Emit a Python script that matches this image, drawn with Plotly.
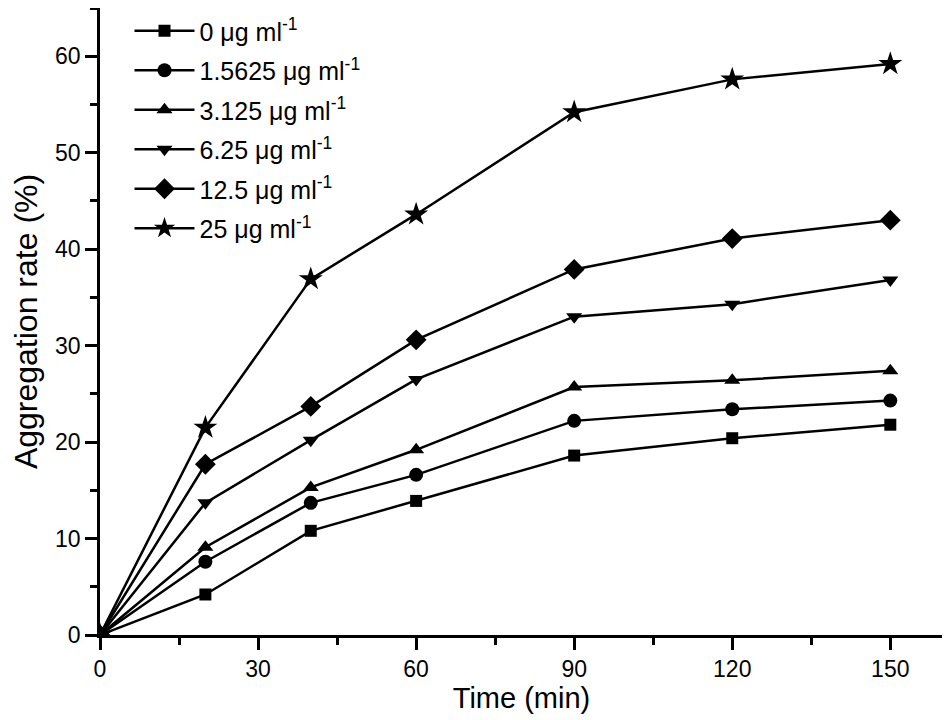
import plotly.graph_objects as go

time_min = [0, 20, 40, 60, 90, 120, 150]
labels = ["0 μg ml<sup>-1</sup>", "1.5625 μg ml<sup>-1</sup>", "3.125 μg ml<sup>-1</sup>",
          "6.25 μg ml<sup>-1</sup>", "12.5 μg ml<sup>-1</sup>", "25 μg ml<sup>-1</sup>"]
rate_0 = [0, 4.2, 10.8, 13.9, 18.6, 20.4, 21.8]
rate_1_5625 = [0, 7.6, 13.7, 16.6, 22.2, 23.4, 24.3]
rate_3_125 = [0, 9.1, 15.3, 19.2, 25.7, 26.4, 27.4]
rate_6_25 = [0, 13.7, 20.2, 26.5, 33.0, 34.3, 36.8]
rate_12_5 = [0, 17.7, 23.7, 30.6, 37.9, 41.1, 43.0]
rate_25 = [0, 21.5, 36.9, 43.6, 54.2, 57.6, 59.2]
series = [rate_0, rate_1_5625, rate_3_125, rate_6_25, rate_12_5, rate_25]
symbols = ["square", "circle", "triangle-up", "triangle-down", "diamond", "star"]
sizes = [12, 14, 14, 14, 16, 18]

fig = go.Figure()
for i, (lab, ys, sym, sz) in enumerate(zip(labels, series, symbols, sizes)):
    fig.add_trace(go.Scatter(
        x=time_min, y=ys, name=lab, mode="lines+markers", legendgroup=f"g{i}",
        line=dict(color="black", width=2.5),
        marker=dict(symbol=sym, size=sz, color="black"),
    ))

FONT = "Liberation Sans, Arial, sans-serif"
fig.update_layout(
    width=942, height=712,
    margin=dict(l=92, r=7, t=0, b=85),
    paper_bgcolor="white", plot_bgcolor="white",
    font=dict(family=FONT, size=23, color="black"),
    showlegend=True,
    legend=dict(x=0.035, y=1.0, xanchor="left", yanchor="top",
                font=dict(family=FONT, size=25, color="black"),
                bgcolor="rgba(0,0,0,0)", itemwidth=60, tracegroupgap=4),
    xaxis=dict(range=[0, 160], tickmode="array", tickvals=[0, 30, 60, 90, 120, 150],
               automargin=False,
               showline=True, linecolor="black", linewidth=2.5, showgrid=False, zeroline=False,
               ticks="outside", ticklen=12, tickwidth=2.5, tickcolor="black",
               minor=dict(tickvals=[15, 45, 75, 105, 135], ticks="outside", ticklen=7,
                          tickwidth=2.5, tickcolor="black", showgrid=False),
               title=dict(text="Time (min)", font=dict(size=29), standoff=4),
               tickfont=dict(size=23)),
    yaxis=dict(range=[0, 65], tickmode="array", tickvals=[0, 10, 20, 30, 40, 50, 60],
               automargin=False,
               showline=True, linecolor="black", linewidth=2.5, showgrid=False, zeroline=False,
               ticks="outside", ticklen=12, tickwidth=2.5, tickcolor="black",
               minor=dict(tickvals=[5, 15, 25, 35, 45, 55, 65], ticks="outside", ticklen=7,
                          tickwidth=2.5, tickcolor="black", showgrid=False),
               title=dict(text="Aggregation rate (%)", font=dict(size=32), standoff=10),
               tickfont=dict(size=23)),
)
fig.write_html("out.html")
